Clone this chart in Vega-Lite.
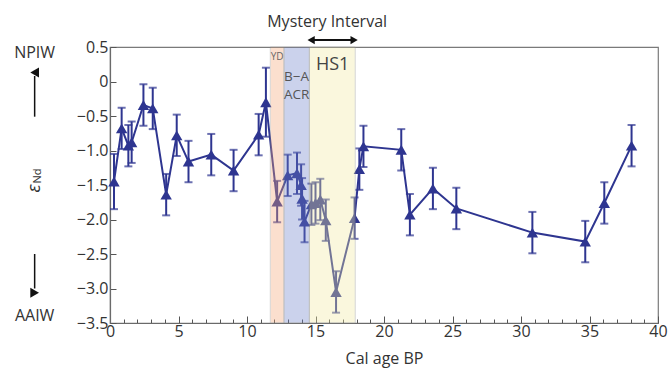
{
  "$schema": "https://vega.github.io/schema/vega-lite/v6.json",
  "width": 548,
  "height": 276,
  "autosize": {"type": "none"},
  "padding": {"left": 110, "top": 47, "right": 13, "bottom": 48},
  "background": "white",
  "config": {
    "font": "Open Sans",
    "view": {"stroke": "#7a7a7a", "strokeWidth": 1.2},
    "axis": {"grid": false}
  },
  "resolve": {"axis": {"x": "independent", "y": "independent"}},
  "datasets": {
    "pts": [
      {"x": 0.29, "y": -1.45, "err": 0.4},
      {"x": 0.85, "y": -0.68, "err": 0.3},
      {"x": 1.34, "y": -0.93, "err": 0.3},
      {"x": 1.58, "y": -0.88, "err": 0.3},
      {"x": 2.44, "y": -0.34, "err": 0.3},
      {"x": 3.12, "y": -0.39, "err": 0.3},
      {"x": 4.1, "y": -1.64, "err": 0.3},
      {"x": 4.87, "y": -0.78, "err": 0.3},
      {"x": 5.73, "y": -1.16, "err": 0.3},
      {"x": 7.39, "y": -1.06, "err": 0.3},
      {"x": 9.02, "y": -1.29, "err": 0.3},
      {"x": 10.85, "y": -0.77, "err": 0.3},
      {"x": 11.38, "y": -0.3, "err": 0.5},
      {"x": 12.2, "y": -1.74, "err": 0.3},
      {"x": 12.97, "y": -1.36, "err": 0.3},
      {"x": 13.65, "y": -1.33, "err": 0.3},
      {"x": 13.95, "y": -1.5, "err": 0.3},
      {"x": 14.02, "y": -1.7, "err": 0.3},
      {"x": 14.2, "y": -2.03, "err": 0.3},
      {"x": 14.7, "y": -1.78, "err": 0.3},
      {"x": 15.0, "y": -1.76, "err": 0.3},
      {"x": 15.35, "y": -1.71, "err": 0.3},
      {"x": 15.75, "y": -2.01, "err": 0.3},
      {"x": 16.5, "y": -3.05, "err": 0.3},
      {"x": 17.85, "y": -1.98, "err": 0.3},
      {"x": 18.2, "y": -1.27, "err": 0.3},
      {"x": 18.5, "y": -0.94, "err": 0.3},
      {"x": 21.26, "y": -0.99, "err": 0.3},
      {"x": 21.89, "y": -1.93, "err": 0.3},
      {"x": 23.57, "y": -1.55, "err": 0.3},
      {"x": 25.28, "y": -1.84, "err": 0.3},
      {"x": 30.83, "y": -2.19, "err": 0.3},
      {"x": 34.69, "y": -2.32, "err": 0.3},
      {"x": 36.08, "y": -1.76, "err": 0.3},
      {"x": 38.07, "y": -0.93, "err": 0.3}
    ],
    "bands": [
      {"band": "YD", "x": 11.7, "x2": 12.7},
      {"band": "B-A ACR", "x": 12.7, "x2": 14.55},
      {"band": "HS1", "x": 14.55, "x2": 17.9}
    ],
    "ydLabel": [{"label": "YD", "x": 12.2, "y": 0.36}],
    "baLabel": [
      {"label": "B−A", "x": 13.62, "y": 0.07},
      {"label": "ACR", "x": 13.62, "y": -0.19}
    ],
    "hsLabel": [{"label": "HS1", "x": 16.25, "y": 0.24}],
    "hArrow": [{"x": 14.75, "x2": 17.75, "y": 0.6}],
    "hHeads": [
      {"x": 14.68, "y": 0.6, "dir": "left"},
      {"x": 17.82, "y": 0.6, "dir": "right"}
    ],
    "vArrow": [
      {"x": -5.5, "y": 0.08, "y2": -0.51},
      {"x": -5.5, "y": -2.5, "y2": -3.0}
    ],
    "vHeads": [
      {"x": -5.5, "y": 0.13, "dir": "up"},
      {"x": -5.5, "y": -3.06, "dir": "down"}
    ],
    "outerText": [
      {"label": "Mystery Interval", "x": 15.85, "y": 0.86},
      {"label": "NPIW", "x": -5.5, "y": 0.41},
      {"label": "AAIW", "x": -5.5, "y": -3.4}
    ],
    "eps": [{"label": "ε", "x": -5.45, "y": -1.55}],
    "nd": [{"label": "Nd", "x": -5.25, "y": -1.37}]
  },
  "layer": [
    {
      "data": {"name": "pts"},
      "mark": {"type": "line", "color": "#2e3590", "strokeWidth": 2},
      "encoding": {
        "x": {
          "field": "x", "type": "quantitative",
          "scale": {"domain": [0, 40], "nice": false, "zero": false},
          "axis": {
            "values": [0,1,2,3,4,5,6,7,8,9,10,11,12,13,14,15,16,17,18,19,20,21,22,23,24,25,26,27,28,29,30,31,32,33,34,35,36,37,38,39,40],
            "labelExpr": "datum.value % 5 === 0 ? datum.label : ''",
            "labelOverlap": false,
            "labelFlush": false,
            "ticks": true,
            "tickSize": {"condition": {"test": "datum.value % 5 === 0", "value": -7}, "value": -4},
            "tickColor": "#555555",
            "tickWidth": 1,
            "domainColor": "#6a6a6a",
            "domainWidth": 1.2,
            "labelFontSize": 16,
            "labelColor": "#333333",
            "labelPadding": 7,
            "title": "Cal age BP",
            "titleFontSize": 16,
            "titleFontWeight": "normal",
            "titleColor": "#333333",
            "titlePadding": 8
          }
        },
        "y": {
          "field": "y", "type": "quantitative",
          "scale": {"domain": [-3.5, 0.5], "nice": false, "zero": false},
          "axis": {
            "values": [-3.5, -3, -2.5, -2, -1.5, -1, -0.5, 0, 0.5],
            "labelExpr": "datum.value === 0 ? '0' : format(datum.value, '.1f')",
            "labelOverlap": false,
            "labelFlush": false,
            "ticks": true,
            "tickSize": -6,
            "tickColor": "#555555",
            "domainColor": "#6a6a6a",
            "domainWidth": 1.2,
            "labelFontSize": 16,
            "labelColor": "#333333",
            "labelPadding": 8,
            "title": null
          }
        }
      }
    },
    {
      "data": {"name": "pts"},
      "mark": {"type": "errorbar", "ticks": true, "color": "#2e3590", "thickness": 2, "size": 8},
      "encoding": {
        "x": {"field": "x", "type": "quantitative", "axis": null},
        "y": {"field": "y", "type": "quantitative", "axis": null},
        "yError": {"field": "err"}
      }
    },
    {
      "data": {"name": "pts"},
      "mark": {"type": "point", "shape": "triangle-up", "filled": true, "size": 130, "color": "#2e3590", "opacity": 1},
      "encoding": {
        "x": {"field": "x", "type": "quantitative", "axis": null},
        "y": {"field": "y", "type": "quantitative", "axis": null}
      }
    },
    {
      "data": {"name": "bands"},
      "mark": {"type": "rect", "opacity": 0.35, "stroke": "#8a8a8a", "strokeOpacity": 1, "strokeWidth": 1},
      "encoding": {
        "x": {"field": "x", "type": "quantitative", "axis": null},
        "x2": {"field": "x2"},
        "color": {
          "field": "band", "type": "nominal", "legend": null,
          "scale": {"domain": ["YD", "B-A ACR", "HS1"], "range": ["#f6a676", "#6d81c9", "#f1eba1"]}
        }
      }
    },
    {
      "data": {"name": "ydLabel"},
      "mark": {"type": "text", "color": "#666666", "fontSize": 10},
      "encoding": {
        "x": {"field": "x", "type": "quantitative", "axis": null},
        "y": {"field": "y", "type": "quantitative", "axis": null},
        "text": {"field": "label"}
      }
    },
    {
      "data": {"name": "baLabel"},
      "mark": {"type": "text", "color": "#555555", "fontSize": 13.5},
      "encoding": {
        "x": {"field": "x", "type": "quantitative", "axis": null},
        "y": {"field": "y", "type": "quantitative", "axis": null},
        "text": {"field": "label"}
      }
    },
    {
      "data": {"name": "hsLabel"},
      "mark": {"type": "text", "color": "#444444", "fontSize": 18},
      "encoding": {
        "x": {"field": "x", "type": "quantitative", "axis": null},
        "y": {"field": "y", "type": "quantitative", "axis": null},
        "text": {"field": "label"}
      }
    },
    {
      "data": {"name": "hArrow"},
      "mark": {"type": "rule", "color": "#111111", "strokeWidth": 2, "clip": false},
      "encoding": {
        "x": {"field": "x", "type": "quantitative", "axis": null},
        "x2": {"field": "x2"},
        "y": {"field": "y", "type": "quantitative", "axis": null}
      }
    },
    {
      "data": {"name": "hHeads"},
      "mark": {"type": "point", "filled": true, "color": "#111111", "size": 70, "opacity": 1, "clip": false},
      "encoding": {
        "x": {"field": "x", "type": "quantitative", "axis": null},
        "y": {"field": "y", "type": "quantitative", "axis": null},
        "shape": {
          "field": "dir", "type": "nominal", "legend": null,
          "scale": {"domain": ["left", "right"], "range": ["triangle-left", "triangle-right"]}
        }
      }
    },
    {
      "data": {"name": "vArrow"},
      "mark": {"type": "rule", "color": "#111111", "strokeWidth": 1.5, "clip": false},
      "encoding": {
        "x": {"field": "x", "type": "quantitative", "axis": null},
        "y": {"field": "y", "type": "quantitative", "axis": null},
        "y2": {"field": "y2"}
      }
    },
    {
      "data": {"name": "vHeads"},
      "mark": {"type": "point", "filled": true, "color": "#111111", "size": 100, "opacity": 1, "clip": false},
      "encoding": {
        "x": {"field": "x", "type": "quantitative", "axis": null},
        "y": {"field": "y", "type": "quantitative", "axis": null},
        "shape": {
          "field": "dir", "type": "nominal", "legend": null,
          "scale": {"domain": ["up", "down"], "range": ["triangle-up", "triangle-down"]}
        }
      }
    },
    {
      "data": {"name": "outerText"},
      "mark": {"type": "text", "color": "#333333", "fontSize": 16, "clip": false},
      "encoding": {
        "x": {"field": "x", "type": "quantitative", "axis": null},
        "y": {"field": "y", "type": "quantitative", "axis": null},
        "text": {"field": "label"}
      }
    },
    {
      "data": {"name": "eps"},
      "mark": {"type": "text", "color": "#333333", "fontSize": 18, "fontStyle": "italic", "angle": 270, "clip": false},
      "encoding": {
        "x": {"field": "x", "type": "quantitative", "axis": null},
        "y": {"field": "y", "type": "quantitative", "axis": null},
        "text": {"field": "label"}
      }
    },
    {
      "data": {"name": "nd"},
      "mark": {"type": "text", "color": "#333333", "fontSize": 11, "angle": 270, "clip": false},
      "encoding": {
        "x": {"field": "x", "type": "quantitative", "axis": null},
        "y": {"field": "y", "type": "quantitative", "axis": null},
        "text": {"field": "label"}
      }
    }
  ]
}
